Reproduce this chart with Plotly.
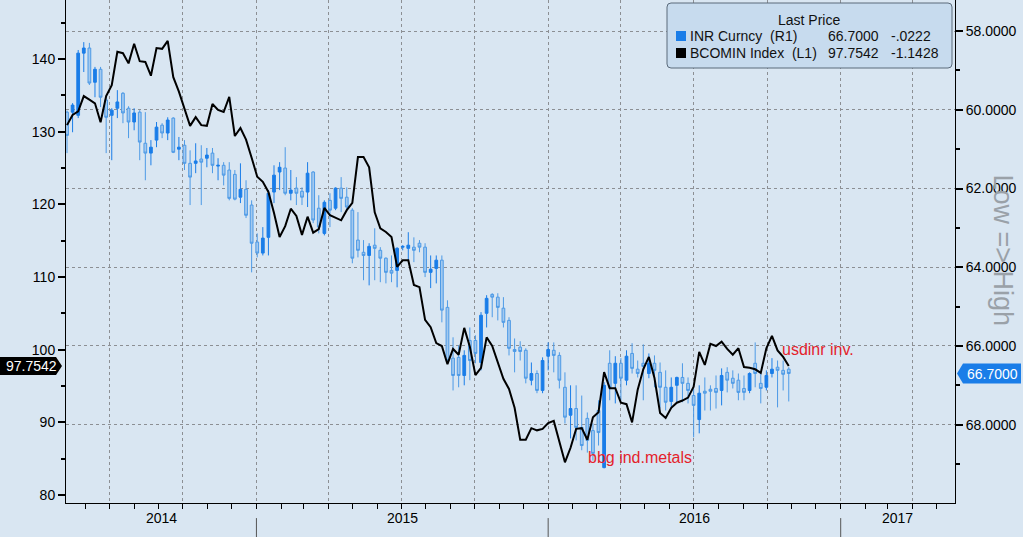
import plotly.graph_objects as go
import pandas as pd

# weekly bars (Fridays)
dates = pd.date_range('2014-05-09', periods=130, freq='W-FRI')

# INR Curncy (R1), inverted right axis
inr_open = [
    60.06, 60.06, 60.14, 58.56, 58.43, 59.30, 58.97, 59.75, 60.14, 59.96,
    59.58, 59.96, 60.31, 60.06, 60.85, 61.10, 60.77, 60.39, 60.59, 60.21,
    61.00, 60.90, 61.36, 61.36, 61.25, 61.23, 61.10, 61.43, 61.41, 61.53,
    61.64, 62.22, 62.02, 62.42, 63.36, 63.64, 63.24, 62.09, 61.58, 61.48,
    62.12, 61.99, 62.07, 62.09, 61.58, 62.50, 63.14, 62.30, 62.50, 61.99,
    62.22, 62.55, 63.31, 63.62, 63.70, 63.44, 63.57, 63.77, 64.08, 64.08,
    63.49, 63.52, 63.49, 63.39, 63.49, 64.13, 64.03, 63.82, 65.02, 66.31,
    66.29, 66.75, 65.86, 65.86, 66.42, 65.17, 64.69, 64.76, 65.04, 65.35,
    66.09, 66.03, 66.11, 66.87, 66.70, 67.13, 66.26, 66.11, 66.24, 67.05,
    67.76, 67.59, 68.07, 67.84, 68.15, 67.64, 69.09, 66.44, 66.95, 66.44,
    66.87, 66.19, 66.59, 66.44, 66.70, 66.44, 66.67, 67.05, 67.41, 67.00,
    66.80, 66.95, 67.26, 67.87, 67.15, 67.10, 67.08, 67.13, 66.67, 66.82,
    66.87, 67.08, 67.13, 66.44, 66.95, 67.05, 66.70, 66.54, 66.62, 66.59,
]
inr_high = [
    61.10, 60.57, 60.21, 59.04, 59.37, 59.68, 59.93, 61.10, 61.28, 60.21,
    60.34, 60.72, 60.52, 61.28, 61.79, 61.41, 60.95, 60.72, 60.77, 61.10,
    61.28, 61.53, 62.42, 61.61, 62.42, 61.46, 61.61, 61.79, 61.92, 62.30,
    62.30, 62.37, 62.75, 64.13, 63.75, 63.70, 63.70, 62.37, 62.04, 62.17,
    62.30, 62.42, 62.42, 62.47, 62.88, 63.14, 63.19, 62.98, 62.55, 62.60,
    62.55, 63.90, 63.75, 64.33, 64.46, 64.33, 64.38, 64.41, 64.38, 64.51,
    63.57, 63.82, 63.87, 63.62, 64.25, 64.53, 64.41, 65.40, 66.44, 67.13,
    67.05, 67.00, 66.87, 66.44, 66.62, 65.53, 65.27, 65.35, 65.53, 66.24,
    66.67, 66.37, 66.95, 67.00, 67.20, 67.20, 66.62, 66.67, 67.08, 67.97,
    68.35, 68.40, 68.65, 68.71, 68.91, 68.53, 69.11, 67.38, 67.46, 67.38,
    67.00, 66.70, 66.80, 67.38, 66.82, 67.05, 67.59, 67.64, 67.59, 67.43,
    67.43, 67.46, 68.32, 68.22, 67.64, 67.64, 67.59, 67.51, 67.18, 67.08,
    67.38, 67.38, 67.20, 67.05, 67.46, 67.13, 66.80, 67.56, 67.13, 67.41,
]
inr_low = [
    60.02, 59.83, 58.48, 58.28, 58.30, 58.91, 58.91, 59.63, 59.96, 59.50,
    59.55, 59.91, 59.96, 60.01, 60.06, 60.77, 60.31, 60.34, 60.19, 60.19,
    60.69, 60.77, 61.03, 60.85, 60.90, 60.97, 60.97, 61.23, 61.33, 61.33,
    61.53, 61.36, 61.79, 62.30, 63.14, 62.98, 62.04, 61.41, 61.33, 60.95,
    61.53, 61.71, 61.97, 61.33, 61.56, 62.17, 62.30, 62.12, 61.97, 61.71,
    61.97, 62.50, 62.60, 63.31, 63.39, 63.01, 63.49, 63.75, 63.70, 63.49,
    63.44, 63.11, 63.24, 63.31, 63.39, 63.70, 63.70, 63.70, 64.84, 65.78,
    65.98, 66.11, 65.53, 65.73, 65.14, 64.71, 64.66, 64.66, 64.76, 65.27,
    65.81, 65.88, 66.06, 66.42, 66.62, 66.29, 65.91, 65.91, 66.16, 66.67,
    67.00, 67.00, 67.26, 67.69, 67.97, 67.38, 66.92, 66.11, 66.26, 66.31,
    66.11, 65.93, 66.37, 65.96, 66.19, 66.24, 66.42, 66.62, 66.80, 66.78,
    66.44, 66.80, 67.08, 67.00, 66.80, 67.00, 66.75, 66.57, 66.54, 66.62,
    66.70, 66.75, 66.67, 65.91, 66.70, 66.62, 66.31, 66.37, 66.37, 66.54,
]
inr_close = [
    60.65, 59.88, 58.56, 58.43, 59.32, 58.97, 59.68, 60.19, 60.01, 59.80,
    60.08, 60.31, 60.08, 60.82, 61.10, 60.95, 60.44, 60.59, 60.26, 61.08,
    60.95, 61.36, 61.71, 61.30, 61.33, 61.15, 61.41, 61.41, 61.66, 62.25,
    62.27, 62.02, 62.68, 63.39, 63.64, 63.26, 62.12, 61.66, 61.46, 62.12,
    62.04, 62.12, 62.22, 61.61, 62.80, 62.98, 62.35, 62.55, 61.99, 62.25,
    62.47, 63.77, 63.57, 63.70, 63.47, 63.52, 63.77, 64.13, 64.15, 63.52,
    63.47, 63.44, 63.57, 63.49, 64.13, 64.05, 63.82, 65.09, 66.37, 66.75,
    66.75, 66.24, 66.37, 66.19, 65.22, 64.79, 64.76, 65.02, 65.40, 66.06,
    66.14, 66.14, 66.82, 66.70, 67.13, 66.37, 66.09, 66.24, 66.87, 67.81,
    67.59, 68.07, 68.53, 68.40, 68.73, 68.20, 67.00, 67.05, 66.44, 66.82,
    66.26, 66.57, 66.70, 66.52, 66.44, 66.62, 67.05, 67.43, 67.05, 66.80,
    66.95, 67.13, 67.51, 67.20, 67.20, 67.15, 67.18, 66.75, 66.87, 66.95,
    67.18, 67.18, 66.70, 66.70, 67.08, 66.75, 66.59, 66.62, 66.72, 66.70,
]

# BCOMIN Index (L1), left axis
bcomin = [
    130.9, 132.3, 132.8, 134.9, 134.4, 133.9, 131.3, 134.9, 136.4, 141.0,
    140.8, 139.4, 142.1, 139.7, 139.6, 137.7, 141.5, 141.4, 142.5, 137.5,
    135.5, 133.0, 130.8, 132.0, 130.9, 130.8, 133.8, 133.0, 132.7, 134.8,
    129.4, 130.5, 128.9, 126.4, 123.8, 123.1, 121.7, 118.8, 115.5, 117.0,
    119.4, 118.4, 115.8, 118.3, 116.1, 116.6, 119.5, 118.5, 118.1, 117.8,
    119.2, 120.2, 126.5, 126.5, 125.1, 118.9, 116.7, 116.2, 115.5, 111.4,
    112.3, 112.3, 108.9, 108.6, 104.1, 103.1, 100.9, 100.5, 98.0, 100.1,
    99.3, 103.0, 100.4, 96.5, 97.5, 101.7, 100.5, 98.2, 96.0, 94.6,
    92.0, 87.6, 87.6, 89.2, 88.9, 89.1, 89.9, 90.2, 87.3, 84.5,
    86.5, 89.1, 89.2, 87.6, 90.7, 91.4, 96.9, 94.7, 94.7, 92.7,
    92.5, 90.0, 94.5, 97.3, 99.0, 96.1, 91.3, 90.6, 92.0, 92.7,
    93.0, 93.4, 94.9, 99.7, 97.9, 100.8, 100.5, 101.1, 100.1, 99.3,
    100.2, 97.6, 97.5, 97.3, 96.8, 100.2, 101.9, 99.9, 99.0, 97.7542,
]

year_labels = ['2014', '2015', '2016', '2017']
inr_last, inr_chg = 66.7000, -0.0222
bcomin_last, bcomin_chg = 97.7542, -1.1428

BG = '#d9e6f2'
FONT = 'Liberation Sans'
x_start = pd.Timestamp('2014-05-07 18:00')
x_end = pd.Timestamp('2017-05-24')

fig = go.Figure()

fig.add_trace(go.Candlestick(
    x=dates, open=inr_open, high=inr_high, low=inr_low, close=inr_close,
    yaxis='y', hoverinfo='skip', showlegend=False,
    increasing=dict(line=dict(color='#4d9ae6', width=1), fillcolor='#a3c9ef'),
    decreasing=dict(line=dict(color='#1a7de8', width=1), fillcolor='#1a7de8'),
))
fig.add_trace(go.Scatter(
    x=dates, y=bcomin, mode='lines', yaxis='y2', hoverinfo='skip',
    line=dict(color='black', width=2), showlegend=False,
))

# year labels centred on the visible part of each year, separators between
annotations = []
shapes = []
for lab in year_labels:
    a = max(pd.Timestamp(lab + '-01-01'), x_start)
    b = min(pd.Timestamp(str(int(lab) + 1) + '-01-01'), x_end)
    annotations.append(dict(x=a + (b - a) / 2, y=0, xref='x', yref='paper', yshift=-25,
                            text=lab, showarrow=False, font=dict(size=14, color='black')))
    if int(lab) > 2014:
        shapes.append(dict(type='line', xref='x', yref='paper', x0=lab + '-01-01', x1=lab + '-01-01',
                           y0=-0.03, y1=-0.07, line=dict(color='#555', width=1)))

# legend box
shapes.append(dict(type='path', xref='paper', yref='paper', xanchor=1, yanchor=1,
                   xsizemode='pixel', ysizemode='pixel',
                   path='M -284,-3 L -7,-3 Q -3,-3 -3,-7 L -3,-64 Q -3,-68 -7,-68 L -284,-68 '
                        'Q -288,-68 -288,-64 L -288,-7 Q -288,-3 -284,-3 Z',
                   fillcolor='#c7dbee', line=dict(color='#5b6b7b', width=1)))
for row, col in [(0, '#1a7de8'), (1, 'black')]:
    shapes.append(dict(type='rect', xref='paper', yref='paper', xanchor=1, yanchor=1,
                       xsizemode='pixel', ysizemode='pixel',
                       x0=-279, x1=-269, y0=-31 - 17 * row, y1=-41 - 17 * row,
                       fillcolor=col, line=dict(width=0)))

def legend_text(txt, px, py, anchor='left'):
    annotations.append(dict(x=1, y=1, xref='paper', yref='paper', xanchor=anchor, yanchor='middle',
                            xshift=px - 955, yshift=-py, text=txt, showarrow=False,
                            font=dict(size=14, color='#111')))

legend_text('Last Price', 809, 20, 'center')
legend_text('INR Curncy  (R1)', 688, 36)
legend_text('%.4f' % inr_last, 881, 36, 'right')
legend_text(('%.4f' % inr_chg).replace('-0.', '-.'), 889, 36)
legend_text('BCOMIN Index  (L1)', 688, 53)
legend_text('%.4f' % bcomin_last, 881, 53, 'right')
legend_text('%.4f' % bcomin_chg, 889, 53)

# last value badges
shapes.append(dict(type='path', xref='paper', yref='y2', xanchor=0, yanchor=bcomin_last,
                   xsizemode='pixel', ysizemode='pixel',
                   path='M -66,-9 L -10,-9 L -4,0 L -10,9 L -66,9 Z',
                   fillcolor='black', line=dict(width=0)))
annotations.append(dict(x=0, y=bcomin_last, xref='paper', yref='y2', xanchor='center',
                        xshift=-35, text='%.4f' % bcomin_last, showarrow=False,
                        font=dict(size=14, color='white')))
shapes.append(dict(type='path', xref='paper', yref='y', xanchor=1, yanchor=inr_last,
                   xsizemode='pixel', ysizemode='pixel',
                   path='M 2,0 L 8,-10 L 66,-10 L 66,10 L 8,10 Z',
                   fillcolor='#1a7de8', line=dict(width=0)))
annotations.append(dict(x=1, y=inr_last, xref='paper', yref='y', xanchor='center',
                        xshift=37, text='%.4f' % inr_last, showarrow=False,
                        font=dict(size=14, color='white')))

# red text notes
annotations.append(dict(x='2016-02-17', y=85.2, xref='x', yref='y2', xanchor='left',
                        text='bbg ind.metals', showarrow=False, font=dict(size=16, color='#e4222b')))
annotations.append(dict(x='2016-10-17', y=100.0, xref='x', yref='y2', xanchor='left',
                        text='usdinr inv.', showarrow=False, font=dict(size=16, color='#e4222b')))
# axis note
annotations.append(dict(x=1, y=0.5, xref='paper', yref='paper', xanchor='center', xshift=48, yshift=1,
                        text='Low => High', textangle=90, showarrow=False,
                        font=dict(size=27, color='#9aa1a8')))

fig.update_layout(
    width=1023, height=537,
    margin=dict(l=66, r=68, t=0, b=34),
    paper_bgcolor=BG, plot_bgcolor=BG,
    font=dict(family=FONT, size=14, color='black'),
    showlegend=False,
    xaxis=dict(
        type='date', range=[x_start, x_end], rangeslider=dict(visible=False),
        tick0='2014-01-01', dtick='M3', showticklabels=False,
        ticks='outside', ticklen=5, tickcolor='black',
        minor=dict(dtick='M1', ticks='outside', ticklen=5, tickcolor='black', showgrid=False),
        showgrid=True, gridcolor='#8c8f94', griddash='dot', gridwidth=1,
        showline=True, linecolor='black', linewidth=1, zeroline=False,
    ),
    yaxis=dict(
        side='right', range=[69.99, 57.21], tick0=58, dtick=2, tickformat='.4f',
        ticks='outside', ticklen=7, tickwidth=2, tickcolor='black',
        minor=dict(dtick=1, ticks='outside', ticklen=4, tickcolor='black', showgrid=False),
        showgrid=True, gridcolor='#8c8f94', griddash='dot', gridwidth=1,
        showline=True, linecolor='black', linewidth=1, zeroline=False,
    ),
    yaxis2=dict(
        side='left', overlaying='y', range=[78.9, 148.12], tick0=80, dtick=10,
        ticks='outside', ticklen=7, tickwidth=2, tickcolor='black',
        minor=dict(dtick=5, ticks='outside', ticklen=4, tickcolor='black'),
        showgrid=False, showline=True, linecolor='black', linewidth=1, zeroline=False,
    ),
    shapes=shapes,
    annotations=annotations,
)

fig.write_html('out.html', config=dict(displayModeBar=False),
               post_script="document.body.style.margin='0px';document.body.style.background='%s';" % BG)
